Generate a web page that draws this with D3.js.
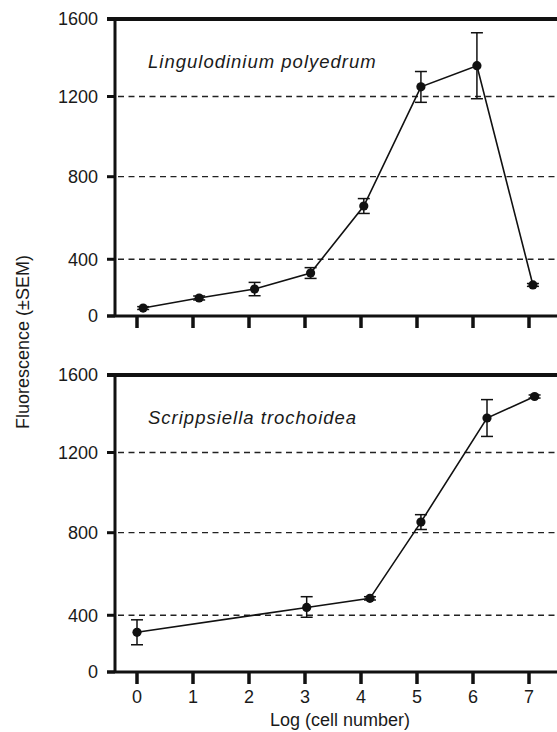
<!DOCTYPE html>
<html>
<head>
<meta charset="utf-8">
<script src="https://cdn.jsdelivr.net/npm/d3@7"></script>
<style>
  body { margin: 0; background: #fff; }
  svg { display: block; font-family: "Liberation Sans", Arial, sans-serif; }
</style>
</head>
<body>
<script>
// values
var yTicks = [0, 400, 800, 1200, 1600];
var yGrid = [400, 800, 1200];
var xTicks = [0, 1, 2, 3, 4, 5, 6, 7];

var lingX = [0.11, 1.11, 2.1, 3.1, 4.05, 5.07, 6.07, 7.07];
var lingY = [56, 127, 190, 303, 658, 1250, 1359, 219];
var lingErr = [10, 14, 47, 38, 36, 79, 170, 10];

var scripX = [0.0, 3.03, 4.16, 5.07, 6.25, 7.1];
var scripY = [280, 438, 482, 853, 1378, 1489];
var scripErr = [88, 52, 8, 37, 95, 8];

var panels = [
    { name: "Lingulodinium polyedrum", x: lingX, y: lingY, err: lingErr, labels: false },
    { name: "Scrippsiella trochoidea", x: scripX, y: scripY, err: scripErr, labels: true }
];

var width = 557, height = 732;
var left = 115, right = 557;
var x0 = 137, x7 = 529;
// the original axis is not evenly spaced: 0-400 is squeezed
var yFrac = [0, 0.191, 0.469, 0.739, 1];
var boxes = [{ top: 19, bottom: 316 }, { top: 375, bottom: 672 }];

var svg = d3.select("body").append("svg")
    .attr("width", width)
    .attr("height", height);

var x = d3.scaleLinear().domain([0, 7]).range([x0, x7]);

panels.forEach(function (p, i) {
    var box = boxes[i];
    var h = box.bottom - box.top;
    var y = d3.scaleLinear()
        .domain(yTicks)
        .range(yFrac.map(function (f) { return box.bottom - f * h; }));

    var g = svg.append("g");

    // dashed grid
    g.selectAll(".grid").data(yGrid).enter().append("line")
        .attr("x1", left + 3)
        .attr("x2", right)
        .attr("y1", function (d) { return y(d); })
        .attr("y2", function (d) { return y(d); })
        .attr("stroke", "#222")
        .attr("stroke-width", 1.3)
        .attr("stroke-dasharray", "6,4.5");

    // y ticks and labels
    g.selectAll(".ytick").data(yTicks).enter().append("line")
        .attr("x1", left - 8)
        .attr("x2", left)
        .attr("y1", function (d) { return y(d); })
        .attr("y2", function (d) { return y(d); })
        .attr("stroke", "#111")
        .attr("stroke-width", 3);

    g.selectAll(".ylab").data(yTicks).enter().append("text")
        .attr("x", 98)
        .attr("y", function (d) { return y(d); })
        .attr("dy", "0.36em")
        .attr("text-anchor", "end")
        .style("font-size", "18px")
        .attr("fill", "#1a1a1a")
        .text(function (d) { return d; });

    // x ticks
    g.selectAll(".xtick").data(xTicks).enter().append("line")
        .attr("x1", function (d) { return x(d); })
        .attr("x2", function (d) { return x(d); })
        .attr("y1", box.bottom)
        .attr("y2", box.bottom + 12)
        .attr("stroke", "#111")
        .attr("stroke-width", 3.5);

    if (p.labels) {
        g.selectAll(".xlab").data(xTicks).enter().append("text")
            .attr("x", function (d) { return x(d); })
            .attr("y", box.bottom + 31)
            .attr("text-anchor", "middle")
            .style("font-size", "18px")
            .attr("fill", "#1a1a1a")
            .text(function (d) { return d; });
    }

    // frame: left, bottom, top
    g.append("line")
        .attr("x1", left).attr("x2", left)
        .attr("y1", y(1600)).attr("y2", y(0))
        .attr("stroke", "#111").attr("stroke-width", 3);
    g.append("line")
        .attr("x1", left - 8).attr("x2", right)
        .attr("y1", y(0)).attr("y2", y(0))
        .attr("stroke", "#111").attr("stroke-width", 3.2);
    g.append("line")
        .attr("x1", left - 8).attr("x2", right)
        .attr("y1", y(1600)).attr("y2", y(1600))
        .attr("stroke", "#111").attr("stroke-width", 3.8);

    var pts = p.x.map(function (v, k) {
        return { x: v, y: p.y[k], e: p.err[k] };
    });

    // error bars
    var eb = g.selectAll(".err").data(pts).enter().append("g");
    eb.append("line")
        .attr("x1", function (d) { return x(d.x); })
        .attr("x2", function (d) { return x(d.x); })
        .attr("y1", function (d) { return y(d.y - d.e); })
        .attr("y2", function (d) { return y(d.y + d.e); })
        .attr("stroke", "#111").attr("stroke-width", 1.5);
    [-1, 1].forEach(function (s) {
        eb.append("line")
            .attr("x1", function (d) { return x(d.x) - 6; })
            .attr("x2", function (d) { return x(d.x) + 6; })
            .attr("y1", function (d) { return y(d.y + s * d.e); })
            .attr("y2", function (d) { return y(d.y + s * d.e); })
            .attr("stroke", "#111").attr("stroke-width", 1.5);
    });

    var line = d3.line()
        .x(function (d) { return x(d.x); })
        .y(function (d) { return y(d.y); });

    g.append("path")
        .datum(pts)
        .attr("d", line)
        .attr("fill", "none")
        .attr("stroke", "#111")
        .attr("stroke-width", 1.6);

    g.selectAll(".pt").data(pts).enter().append("circle")
        .attr("cx", function (d) { return x(d.x); })
        .attr("cy", function (d) { return y(d.y); })
        .attr("r", 4.6)
        .attr("fill", "#111");

    g.append("text")
        .attr("x", 148)
        .attr("y", box.top + 49)
        .style("font-size", "18.5px")
        .style("font-style", "italic")
        .style("letter-spacing", "1px")
        .attr("fill", "#1a1a1a")
        .text(p.name);
});

svg.append("text")
    .attr("transform", "translate(29,342) rotate(-90)")
    .attr("text-anchor", "middle")
    .style("font-size", "18px")
    .attr("fill", "#1a1a1a")
    .text("Fluorescence (\u00b1SEM)");

svg.append("text")
    .attr("x", 340)
    .attr("y", 726)
    .attr("text-anchor", "middle")
    .style("font-size", "18px")
    .attr("fill", "#1a1a1a")
    .text("Log (cell number)");
</script>
</body>
</html>
